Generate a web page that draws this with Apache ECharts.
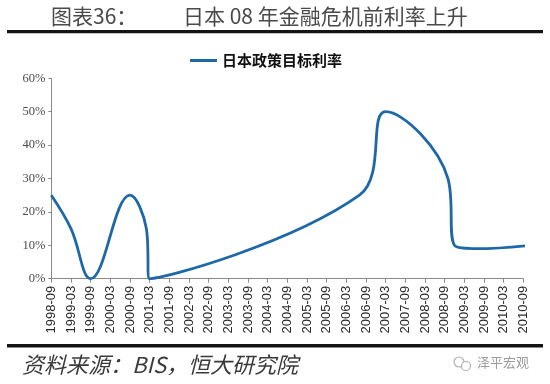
<!DOCTYPE html>
<html>
<head>
<meta charset="utf-8">
<script src="https://cdn.jsdelivr.net/npm/echarts@6/dist/echarts.min.js"></script>
<style>
html,body{margin:0;padding:0;background:#fff;}
#chart{width:550px;height:384px;}
</style>
</head>
<body>
<div id="chart"></div>
<script>
// Dates and policy target rate values (in %)
const dates = ['1998-09','1999-03','1999-09','2000-09','2001-02','2001-03','2006-07','2007-03','2008-10','2008-12','2009-07','2010-11'];
const rates = [25, 15, 0, 25, 15, 0, 25, 50, 30, 10, 9, 10];
const seriesName = '日本政策目标利率';
const tickLabels = ['1998-09','1999-03','1999-09','2000-03','2000-09','2001-03','2001-09','2002-03','2002-09','2003-03','2003-09','2004-03','2004-09','2005-03','2005-09','2006-03','2006-09','2007-03','2007-09','2008-03','2008-09','2009-03','2009-09','2010-03','2010-09'];
const yTicks = [0, 10, 20, 30, 40, 50, 60];

function monthsFromStart(s){
  const [y, m] = s.split('-').map(Number);
  return (y - 1998) * 12 + (m - 9);
}
const seriesData = dates.map((d, i) => [monthsFromStart(d), rates[i]]);

const chart = echarts.init(document.getElementById('chart'), null, {renderer: 'canvas'});
const lineColor = '#1E68A8';
const option = {
  backgroundColor: '#ffffff',
  animation: false,
  legend: {
    data: [seriesName],
    left: 185,
    top: 48,
    icon: 'rect',
    itemWidth: 27,
    itemHeight: 3,
    itemGap: 5,
    textStyle: {fontFamily: '"Noto Sans CJK SC", sans-serif', fontSize: 15, fontWeight: 'bold', color: '#111'}
  },
  grid: {left: 51.3, top: 78.3, width: 472, height: 200.4, containLabel: false},
  xAxis: {
    type: 'value',
    min: 0,
    max: (tickLabels.length - 1) * 6,
    interval: 6,
    splitLine: {show: false},
    axisLine: {show: true, lineStyle: {color: '#8a8a8a', width: 1}},
    axisTick: {show: true, length: 4, lineStyle: {color: '#8a8a8a'}},
    axisLabel: {
      rotate: 90,
      margin: 7,
      fontSize: 13,
      fontFamily: '"Liberation Sans", Arial, sans-serif',
      color: '#2a2a2a',
      showMaxLabel: true,
      showMinLabel: true,
      formatter: function(v){ return v % 6 === 0 ? (tickLabels[v / 6] || '') : ''; }
    }
  },
  yAxis: {
    type: 'value',
    min: yTicks[0],
    max: yTicks[yTicks.length - 1],
    interval: 10,
    splitLine: {show: false},
    axisLine: {show: true, lineStyle: {color: '#8a8a8a', width: 1}},
    axisTick: {show: true, length: 3, lineStyle: {color: '#8a8a8a'}},
    axisLabel: {
      margin: 6,
      fontSize: 12.5,
      fontFamily: '"Liberation Serif", "Times New Roman", serif',
      color: '#4a4a4a',
      formatter: '{value}%'
    }
  },
  series: [{
    name: seriesName,
    type: 'line',
    data: seriesData,
    smooth: 0.4,
    symbol: 'none',
    clip: false,
    lineStyle: {color: lineColor, width: 2.8},
    itemStyle: {color: lineColor}
  }],
  graphic: [
    {type: 'text', left: 51, top: 6, style: {text: '图表36：', font: '21px "Noto Sans CJK SC", sans-serif', fill: '#4a4a4a'}},
    {type: 'text', left: 183, top: 6, style: {text: '日本 08 年金融危机前利率上升', font: '21px "Noto Sans CJK SC", sans-serif', fill: '#4a4a4a'}},
    {type: 'rect', shape: {x: 7, y: 30, width: 536, height: 3.3}, style: {fill: '#141414'}},
    {type: 'rect', shape: {x: 7, y: 344, width: 536, height: 3.5}, style: {fill: '#141414'}},
    {type: 'text', left: 22, top: 354, style: {text: '资料来源：BIS，恒大研究院', font: 'italic 22px "Noto Sans CJK SC", sans-serif', fill: '#3a3a3a'}},
    {type: 'circle', shape: {cx: 459, cy: 362, r: 5}, style: {fill: 'none', stroke: '#b0b0b0', lineWidth: 1.2}},
    {type: 'circle', shape: {cx: 466, cy: 366, r: 4.5}, style: {fill: '#fff', stroke: '#b0b0b0', lineWidth: 1.2}},
    {type: 'text', left: 477, top: 356, style: {text: '泽平宏观', font: '13px "Noto Sans CJK SC", sans-serif', fill: '#9a9a9a'}}
  ]
};
chart.setOption(option);
</script>
</body>
</html>
